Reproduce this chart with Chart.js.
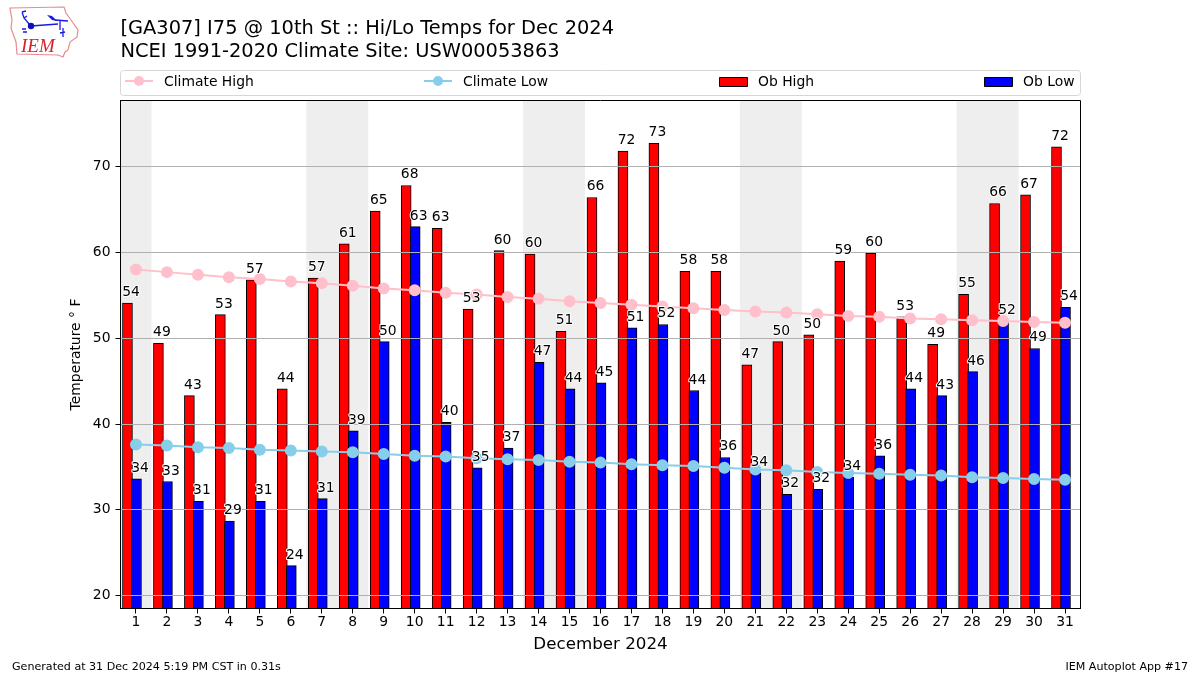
<!DOCTYPE html>
<html>
<head>
<meta charset="utf-8">
<title>Hi/Lo Temps</title>
<script src="https://cdn.jsdelivr.net/npm/chart.js@4"></script>
<style>
  html, body { margin: 0; padding: 0; background: #fff; }
  #wrap { position: relative; width: 1200px; height: 675px; }
  #logo { position: absolute; left: 8px; top: 6px; }
  canvas { display: block; }
</style>
</head>
<body>
<div id="wrap">
  <canvas id="myChart" width="1200" height="675"></canvas>
  <svg id="logo" width="72" height="54" viewBox="0 0 72 54">
    <path d="M2 2 L56 1 L58 7 L63 14 L70 24 L69 31 L62 36 L60 44 L57 46 L55 51 L50 49 L9 48 L8 36 L3 22 L4 14 Z" fill="#fff" stroke="#e88a90" stroke-width="1.2"/>
    <path d="M14 6 L16 12 L22 19 M14 6 L18 5 M16 12 L19 10 M23 20 L50 18 M47 14 L60 15 M52 15 L52 24 M55 22 L55 31 M52 27 L57 26" fill="none" stroke="#1a1ae0" stroke-width="1.3"/>
    <path d="M39 9 L44 10 L49 15 L44 14 Z" fill="#1a1ae0"/>
    <circle cx="23" cy="20" r="3.2" fill="#1010c0"/>
    <path d="M14 23 L18 23 M15 26 L19 26" stroke="#1a1ae0" stroke-width="1.5" fill="none"/>
    <text x="13" y="46" font-family="Liberation Serif" font-style="italic" font-size="19" fill="#d8202a">IEM</text>
  </svg>
</div>
<script>
const days = [1,2,3,4,5,6,7,8,9,10,11,12,13,14,15,16,17,18,19,20,21,22,23,24,25,26,27,28,29,30,31];
const obHigh = [54.1,49.4,43.3,52.75,56.8,44.1,57,61,64.8,67.8,62.8,53.4,60.2,59.8,50.8,66.4,71.8,72.7,57.8,57.8,46.9,49.6,50.4,59,59.9,52.5,49.3,55.1,65.7,66.7,72.3];
const obLow = [33.6,33.3,31,28.7,31,23.5,31.3,39.2,49.6,63,40.2,34.9,37.2,47.2,44.1,44.8,51.2,51.6,43.9,36.1,34.3,31.8,32.4,33.8,36.3,44.1,43.3,46.1,52,48.8,53.6];
const climateHigh = [58,57.7,57.4,57.1,56.9,56.6,56.4,56.1,55.8,55.6,55.3,55.1,54.8,54.6,54.3,54.1,53.9,53.7,53.5,53.3,53.1,53,52.8,52.6,52.5,52.3,52.2,52.1,52,51.9,51.8];
const climateLow = [37.6,37.5,37.3,37.2,37,36.9,36.8,36.7,36.5,36.3,36.2,36,35.9,35.8,35.6,35.5,35.3,35.2,35.1,34.9,34.7,34.6,34.4,34.3,34.2,34.1,34,33.8,33.7,33.6,33.5];
const yTicks = [20,30,40,50,60,70];
const weekends = [[0.5,1.5],[6.5,8.5],[13.5,15.5],[20.5,22.5],[27.5,29.5]];

const FONT = '"DejaVu Sans"';

function barPoints(values, shift) {
  return values.map((v, i) => ({x: days[i] + shift, y: v}));
}
function linePoints(values) {
  return values.map((v, i) => ({x: days[i], y: v}));
}

// grey weekend bands, behind the bars
const shading = {
  id: 'shading',
  beforeDatasetsDraw(chart) {
    const {ctx, chartArea, scales} = chart;
    ctx.save();
    ctx.fillStyle = '#eeeeee';
    weekends.forEach(w => {
      const x0 = scales.x.getPixelForValue(w[0]);
      const x1 = scales.x.getPixelForValue(w[1]);
      ctx.fillRect(x0, chartArea.top, x1 - x0, chartArea.height);
    });
    ctx.restore();
  }
};

// value labels with white halo, frame, legend box and footer
const extras = {
  id: 'extras',
  afterDraw(chart) {
    const {ctx, chartArea, scales} = chart;
    ctx.save();
    ctx.font = '13.9px ' + FONT;
    ctx.textAlign = 'center';
    ctx.textBaseline = 'alphabetic';
    ctx.lineJoin = 'round';
    function label(val, day, shift) {
      const x = scales.x.getPixelForValue(day) + shift;
      const y = scales.y.getPixelForValue(val) - 7;
      ctx.strokeStyle = '#fff';
      ctx.lineWidth = 2;
      ctx.strokeText(Math.round(val), x, y);
      ctx.fillStyle = '#000';
      ctx.fillText(Math.round(val), x, y);
    }
    days.forEach((d, i) => {
      label(obHigh[i], d, -5);
      label(obLow[i], d, 4);
    });

    // frame
    ctx.strokeStyle = '#000';
    ctx.lineWidth = 1;
    ctx.strokeRect(chartArea.left, chartArea.top, chartArea.width, chartArea.height);

    // legend
    ctx.strokeStyle = '#d6d6d6';
    ctx.beginPath();
    ctx.roundRect(120.5, 70.5, 960, 25, 3);
    ctx.stroke();
    const legendX = [125, 424, 719, 984];
    ctx.font = '13.9px ' + FONT;
    ctx.textAlign = 'left';
    ctx.textBaseline = 'middle';
    chart.data.datasets.forEach((ds, i) => {
      const x = legendX[i];
      if (ds.type === 'line') {
        ctx.strokeStyle = ds.borderColor;
        ctx.lineWidth = 2;
        ctx.beginPath();
        ctx.moveTo(x, 81);
        ctx.lineTo(x + 28, 81);
        ctx.stroke();
        ctx.fillStyle = ds.borderColor;
        ctx.beginPath();
        ctx.arc(x + 14, 81, 5, 0, Math.PI * 2);
        ctx.fill();
      } else {
        ctx.fillStyle = ds.backgroundColor;
        ctx.fillRect(x + 0.5, 77.5, 28, 9);
        ctx.strokeStyle = '#000';
        ctx.lineWidth = 1;
        ctx.strokeRect(x + 0.5, 77.5, 28, 9);
      }
      ctx.fillStyle = '#000';
      ctx.fillText(ds.label, x + 39, 82);
    });

    // footer
    ctx.font = '11.1px ' + FONT;
    ctx.textBaseline = 'alphabetic';
    ctx.fillText('Generated at 31 Dec 2024 5:19 PM CST in 0.31s', 12, 670);
    ctx.textAlign = 'right';
    ctx.fillText('IEM Autoplot App #17', 1188, 670);
    ctx.restore();
  }
};

function renderChart() {
  const data = {
    datasets: [
      {type: 'line', label: 'Climate High', data: linePoints(climateHigh), borderColor: '#ffc0cb', backgroundColor: '#ffc0cb', borderWidth: 2, pointRadius: 5, pointHoverRadius: 5, order: 1},
      {type: 'line', label: 'Climate Low', data: linePoints(climateLow), borderColor: '#87ceeb', backgroundColor: '#87ceeb', borderWidth: 2, pointRadius: 5, pointHoverRadius: 5, order: 0},
      {type: 'bar', label: 'Ob High', data: barPoints(obHigh, -0.275), backgroundColor: '#ff0000', borderColor: '#000', borderWidth: 1, grouped: false, barThickness: 10, order: 3},
      {type: 'bar', label: 'Ob Low', data: barPoints(obLow, 0.016), backgroundColor: '#0000ff', borderColor: '#000', borderWidth: 1, grouped: false, barThickness: 10, order: 2}
    ]
  };

  const options = {
    responsive: false,
    animation: false,
    layout: {padding: {left: 68.5, right: 119.5, top: 0, bottom: 0}},
    plugins: {
      legend: {display: false},
      tooltip: {enabled: false},
      title: {
        display: true,
        text: ['[GA307] I75 @ 10th St :: Hi/Lo Temps for Dec 2024', 'NCEI 1991-2020 Climate Site: USW00053863'],
        align: 'start',
        fullSize: false,
        color: '#000',
        font: {family: FONT, size: 19.4, weight: 'normal', lineHeight: 1.16},
        padding: {top: 18, bottom: 37.5}
      }
    },
    scales: {
      x: {
        type: 'linear',
        offset: false,
        min: 0.5,
        max: 31.5,
        afterBuildTicks: axis => { axis.ticks = days.map(d => ({value: d})); },
        afterFit: axis => { axis.height = 66.5; },
        grid: {offset: false, drawOnChartArea: false, tickColor: '#000', tickLength: 5},
        border: {color: '#000'},
        ticks: {color: '#000', font: {family: FONT, size: 13.9}, padding: 1, maxRotation: 0, autoSkip: false},
        title: {display: true, text: 'December 2024', color: '#000', font: {family: FONT, size: 16.7}, padding: {top: 4, bottom: 20}}
      },
      y: {
        min: 18.5,
        max: 77.7,
        afterBuildTicks: axis => { axis.ticks = yTicks.map(v => ({value: v})); },
        afterFit: axis => { axis.width = 52; },
        grid: {color: '#b0b0b0', tickColor: '#000', tickLength: 5, z: 1},
        border: {color: '#000', z: 1},
        ticks: {color: '#000', font: {family: FONT, size: 13.9}, padding: 5},
        title: {display: true, text: 'Temperature ° F', color: '#000', font: {family: FONT, size: 13.9}, padding: 0}
      }
    }
  };

  new Chart(document.getElementById('myChart').getContext('2d'), {
    data: data,
    options: options,
    plugins: [shading, extras]
  });
}

renderChart();
</script>
</body>
</html>
